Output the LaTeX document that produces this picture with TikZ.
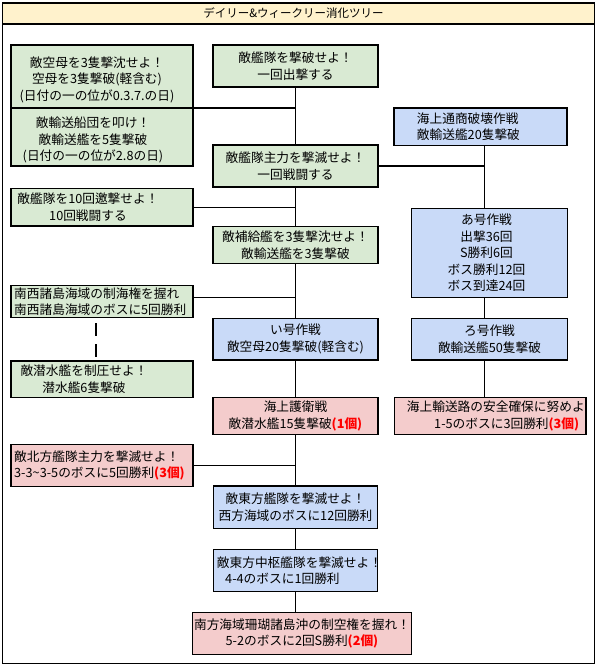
\documentclass[tikz,border=0pt]{standalone}
\usepackage{fontspec}
\setmainfont{Noto Sans CJK JP}
\usetikzlibrary{fit}
\definecolor{bgreen}{HTML}{D9EAD3}
\definecolor{bblue}{HTML}{C9DAF8}
\definecolor{bpink}{HTML}{F4CCCC}
\definecolor{byellow}{HTML}{FFF2CC}
\definecolor{cred}{HTML}{FF0000}
\newcommand\redcount[1]{\textcolor{cred}{\bfseries #1}}
\begin{document}
\begin{tikzpicture}[x=1pt,y=-1pt,
  bx/.style={draw=black, line width=1.1pt, inner sep=0pt, outer sep=0pt},
  gbox/.style={bx, fill=bgreen},
  bbox/.style={bx, fill=bblue},
  rbox/.style={bx, fill=bpink},
  txt/.style={font=\fontsize{12.7}{16.5}\selectfont, align=center, inner sep=0pt},
  ltxt/.style={txt, align=left, anchor=west},
  conn/.style={draw=black, line width=1.1pt},
  dconn/.style={conn, dash pattern=on 13pt off 8pt, dash phase=15.7pt}
]
\useasboundingbox (0,0) rectangle (597,668);
% frame and title bar
\node[bx, fill=white, line width=1.4pt, fit={(2.5,3) (594.5,663.5)}] (frame) {};
\node[bx, fill=byellow, line width=1.4pt, fit={(2.5,3) (594.5,24)}] (title) {};
\node[font=\fontsize{11.5}{14}\selectfont, inner sep=0pt] (titletext) at ([xshift=-5pt]title.center) {デイリー\&ウィークリー消化ツリー};

% left column
\node[gbox, fit={(11,45) (193,108)}] (A) {};
\node[txt] (At) at ([xshift=-5pt,yshift=-3pt]A.center) {敵空母を3隻撃沈せよ！\\空母を3隻撃破(軽含む)\\(日付の一の位が0.3.7.の日)};
\node[gbox, fit={(11,108) (193,166)}] (B) {};
\node[txt] (Bt) at ([xshift=-9pt,yshift=-3pt]B.center) {敵輸送船団を叩け！\\敵輸送艦を5隻撃破\\(日付の一の位が2.8の日)};
\node[gbox, fit={(11,188.3) (193,226)}] (F) {};
\node[txt] (Ft) at ([xshift=-14pt]F.center) {敵艦隊を10回邀撃せよ！\\10回戦闘する};
\node[gbox, fit={(11,285.3) (193,317.7)}] (H) {};
\node[ltxt] (Ht) at ([xshift=3pt]H.west) {南西諸島海域の制海権を握れ\\南西諸島海域のボスに5回勝利};
\node[gbox, fit={(11,361) (193,397.3)}] (I) {};
\node[txt] (It) at ([xshift=-18pt]I.center) {敵潜水艦を制圧せよ！\\潜水艦6隻撃破};
\node[rbox, fit={(11,444.3) (193,486.7)}] (O) {};
\node[ltxt] (Ot) at ([xshift=3pt]O.west) {敵北方艦隊主力を撃滅せよ！\\3-3\textasciitilde 3-5のボスに5回勝利\redcount{(3個)}};

% centre column
\node[gbox, fit={(213,45) (378,87)}] (C) {};
\node[txt] (Ct) at (C.center) {敵艦隊を撃破せよ！\\一回出撃する};
\node[gbox, fit={(213,145) (378,187)}] (D) {};
\node[txt] (Dt) at (D.center) {敵艦隊主力を撃滅せよ！\\一回戦闘する};
\node[gbox, fit={(213,226.7) (378,263.3)}] (G) {};
\node[txt] (Gt) at (G.center) {敵補給艦を3隻撃沈せよ！\\敵輸送艦を3隻撃破};
\node[bbox, fit={(213,318.3) (378,360)}] (J) {};
\node[txt] (Jt) at (J.center) {い号作戦\\敵空母20隻撃破(軽含む)};
\node[rbox, fit={(213,397.3) (378,434.3)}] (M) {};
\node[txt] (Mt) at (M.center) {海上護衛戦\\敵潜水艦15隻撃破\redcount{(1個)}};
\node[bbox, fit={(213.3,486) (377.7,528.3)}] (P) {};
\node[txt] (Pt) at (P.center) {敵東方艦隊を撃滅せよ！\\西方海域のボスに12回勝利};
\node[bbox, fit={(213.3,549.3) (377.7,591.7)}] (Q) {};
\node[ltxt] (Qt) at ([xshift=3.4pt]Q.west) {敵東方中枢艦隊を撃滅せよ！\\\hspace*{8.3pt}4-4のボスに1回勝利};
\node[rbox, fit={(192.3,612.7) (411.7,654.3)}] (R) {};
\node[txt] (Rt) at (R.center) {南方海域珊瑚諸島沖の制空権を握れ！\\5-2のボスに2回S勝利\redcount{(2個)}};

% right column
\node[bbox, fit={(394,108) (567,145.5)}] (E) {};
\node[ltxt] (Et) at ([xshift=22.7pt]E.west) {海上通商破壊作戦\\敵輸送艦20隻撃破};
\node[bbox, fit={(411.7,208.3) (567.3,297.3)}] (K) {};
\node[txt] (Kt) at ([xshift=-3pt]K.center) {あ号作戦\\出撃36回\\S勝利6回\\ボス勝利12回\\ボス到達24回};
\node[bbox, fit={(411.7,318.3) (567.3,360)}] (L) {};
\node[txt] (Lt) at (L.center) {ろ号作戦\\敵輸送艦50隻撃破};
\node[rbox, fit={(394.3,397.3) (586,434.3)}] (N) {};
\node[ltxt] (Nt) at ([xshift=12.4pt]N.west) {海上輸送路の安全確保に努めよ\\\hspace*{27.3pt}1-5のボスに3回勝利\redcount{(3個)}};

% helper coordinates
\coordinate (rx) at (484.3,0);
\coordinate (dx) at (96,0);

% trunk
\draw[conn] (C.south) -- (C.south |- D.north);
\draw[conn] (D.south) -- (D.south |- G.north);
\draw[conn] (G.south) -- (G.south |- J.north);
\draw[conn] (J.south) -- (J.south |- M.north);
\draw[conn] (M.south) -- (M.south |- P.north);
\draw[conn] (P.south) -- (P.south |- Q.north);
\draw[conn] (Q.south) -- (Q.south |- R.north);

% left branches
\draw[conn] (A.south east) -- (A.south east -| C.south);
\draw[conn] (F.east) -- (F.east -| C.south);
\draw[conn] ([yshift=4.2pt]H.east) -- ([yshift=4.2pt]H.east -| C.south);
\draw[conn] (O.east) -- (O.east -| C.south);
\draw[dconn] (H.south -| dx) -- (I.north -| dx);

% right branch
\draw[conn] (D.east) -- (D.east -| rx);
\draw[conn] (E.south -| rx) -- (K.north -| rx);
\draw[conn] (K.south -| rx) -- (L.north -| rx);
\draw[conn] (L.south -| rx) -- (N.north -| rx);
\end{tikzpicture}
\end{document}
